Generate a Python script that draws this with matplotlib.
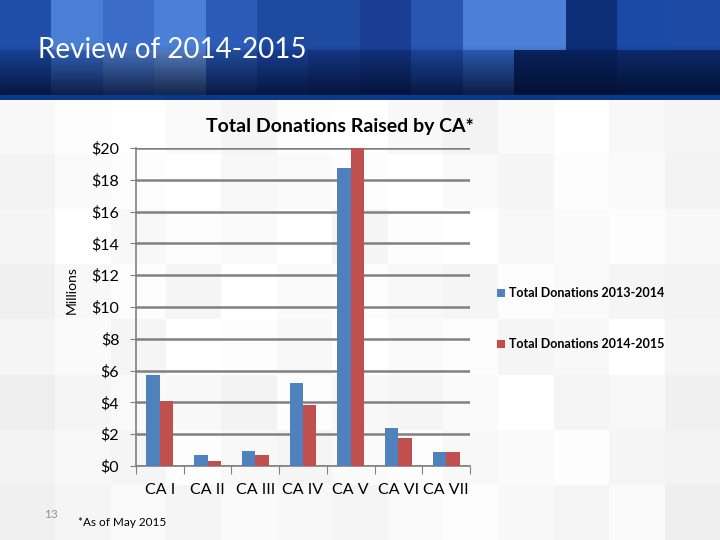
import matplotlib.pyplot as plt
import numpy as np
from matplotlib.patches import Rectangle

plt.rcParams['font.family'] = ['Lato', 'DejaVu Sans']

# Data (millions of dollars)
regions = ["CA I", "CA II", "CA III", "CA IV", "CA V", "CA VI", "CA VII"]
don_2013_2014 = [5.72, 0.72, 0.95, 5.2, 18.75, 2.4, 0.9]
don_2014_2015 = [4.1, 0.3, 0.72, 3.85, 20.0, 1.78, 0.9]
ytick_vals = [0, 2, 4, 6, 8, 10, 12, 14, 16, 18, 20]
series_names = ["Total Donations 2013-2014", "Total Donations 2014-2015"]
colors = ["#4F81BD", "#C0504D"]

fig = plt.figure(figsize=(7.2, 5.4), dpi=100)

# slide background: light gray mosaic
bg = fig.add_axes([0, 0, 1, 1])
bg.set_axis_off()
tiles = np.array([
    [0.97, 0.99, 1.00, 0.98, 0.96, 0.99, 1.00, 0.97, 0.95, 0.98, 1.00, 0.97, 0.96],
    [0.95, 0.98, 0.99, 1.00, 0.97, 0.98, 0.99, 1.00, 0.98, 0.96, 0.99, 0.98, 0.95],
    [0.96, 1.00, 0.97, 0.99, 0.98, 1.00, 0.96, 0.99, 1.00, 0.97, 0.98, 0.99, 0.97],
    [0.94, 0.97, 0.99, 0.96, 1.00, 0.98, 0.99, 0.97, 0.96, 0.99, 0.98, 0.96, 0.95],
    [0.96, 0.98, 0.96, 1.00, 0.99, 0.97, 1.00, 0.98, 0.99, 0.96, 0.97, 1.00, 0.96],
    [0.93, 0.96, 0.98, 0.97, 0.95, 0.99, 0.97, 0.96, 0.98, 1.00, 0.96, 0.97, 0.94],
    [0.95, 0.97, 0.96, 0.99, 0.97, 0.96, 0.98, 0.99, 0.97, 0.98, 0.99, 0.96, 0.95],
    [0.94, 0.96, 0.98, 0.96, 0.98, 0.97, 0.96, 0.98, 0.99, 0.97, 0.96, 0.98, 0.93],
])
bg.imshow(tiles, cmap="gray", vmin=0, vmax=1, extent=[0, 1, 0, 0.815],
          aspect="auto", interpolation="nearest")
bg.set_xlim(0, 1)
bg.set_ylim(0, 1)

# header banner: blue mosaic with dark gradient toward bottom
hdr = fig.add_axes([0, 1 - 100 / 540, 1, 100 / 540])
hdr.set_axis_off()
top = ["#1f4fa8", "#4a7fd6", "#3a6cc8", "#4a80d8", "#2c5cb8", "#1e4aa0", "#1e4aa0",
       "#1a3f95", "#2a55b0", "#4a80d8", "#4a80d8", "#0c2f78", "#1a49a8", "#1c4aa5"]
bot = ["#1a459c", "#3566bf", "#4a78c8", "#5a84c8", "#2452a8", "#1a4298", "#16398a",
       "#133380", "#1d479e", "#2e5fb8", "#0a2460", "#0a2460", "#0e2c6e", "#0e2c6e"]
ncol = len(top)
img = np.zeros((2, ncol, 3))
for i in range(ncol):
    img[0, i] = [int(top[i][k:k + 2], 16) / 255 for k in (1, 3, 5)]
    img[1, i] = [int(bot[i][k:k + 2], 16) / 255 for k in (1, 3, 5)]
hdr.imshow(img, extent=[0, 1, 0, 1], aspect="auto", interpolation="nearest")
grad = np.linspace(0, 1, 100)
shade = np.zeros((100, 1, 4))
shade[:, 0, 1] = 0.04
shade[:, 0, 2] = 0.15
shade[:, 0, 3] = np.clip((grad - 0.45) / 0.55, 0, 1) * 0.85
hdr.imshow(shade, extent=[0, 1, 0, 1], aspect="auto", interpolation="bilinear")
hdr.add_patch(Rectangle((0, 0), 1, 0.05, color="#0a3a8a", transform=hdr.transAxes))
hdr.set_xlim(0, 1)
hdr.set_ylim(0, 1)
fig.text(38 / 720, 1 - 50 / 540, "Review of 2014-2015", color="white",
         fontsize=20, va="center", ha="left")

# chart
ax = fig.add_axes([136 / 720, 1 - 466 / 540, 334 / 720, 318 / 540])
ax.patch.set_alpha(0)
x = np.arange(len(regions))
w = 0.28
ax.bar(x - w / 2, don_2013_2014, w, color=colors[0], label=series_names[0], zorder=3)
ax.bar(x + w / 2, don_2014_2015, w, color=colors[1], label=series_names[1], zorder=3)

ax.set_xlim(-0.5, len(regions) - 0.5)
ax.set_ylim(0, 20)
ax.set_yticks(ytick_vals)
ax.set_yticklabels([f"${v}" for v in ytick_vals], fontsize=11.5)
ax.grid(axis="y", color="#808080", linewidth=1.8, zorder=0)
ax.set_axisbelow(True)
for s in ["top", "right"]:
    ax.spines[s].set_visible(False)
ax.spines["left"].set_color("#808080")
ax.spines["bottom"].set_color("#808080")
ax.spines["left"].set_linewidth(1.2)
ax.spines["bottom"].set_linewidth(1.2)
ax.tick_params(axis="y", length=4, color="#808080", pad=8)

ax.set_xticks(np.arange(len(regions) + 1) - 0.5)
ax.set_xticklabels([])
ax.tick_params(axis="x", length=6, color="#808080")
ax.set_xticks(x, minor=True)
ax.set_xticklabels(regions, minor=True, fontsize=11.5)
ax.tick_params(axis="x", which="minor", length=0, pad=12)

fig.text(72 / 720, 1 - 290 / 540, "Millions", rotation=90, fontsize=10,
         va="center", ha="center")
fig.text(340 / 720, 1 - 126 / 540, "Total Donations Raised by CA*", fontsize=14,
         fontweight="bold", va="center", ha="center")

leg = fig.legend(loc="upper left", bbox_to_anchor=(486 / 720, 1 - 276 / 540),
                 frameon=False, prop={"size": 9, "weight": "bold"},
                 handlelength=0.6, handleheight=0.6,
                 handletextpad=0.3, labelspacing=3.1)

fig.text(78 / 720, 1 - 523 / 540, "*As of May 2015", fontsize=8.5,
         va="center", ha="left")
fig.text(44 / 720, 1 - 514 / 540, "13", fontsize=8.5, color="#909090",
         va="center", ha="left")

fig.savefig("out.png", dpi=100)
